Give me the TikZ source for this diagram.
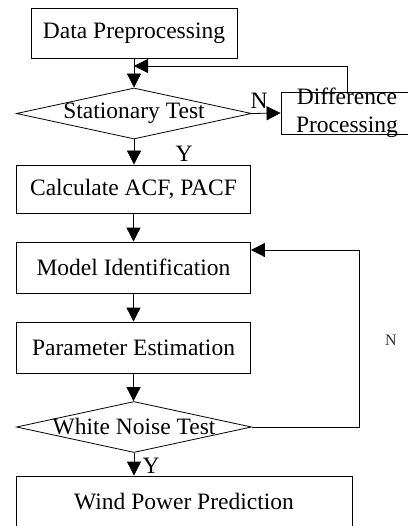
\documentclass[tikz,border=0pt]{standalone}
\usepackage{fontspec}
\setmainfont{Liberation Serif}
\usetikzlibrary{arrows.meta,shapes.geometric,calc}

\begin{document}
\begin{tikzpicture}[x=1pt,y=-1pt,
    lbl/.style={inner sep=0pt, font=\fontsize{23.5}{28}\selectfont},
    stepbox/.style={draw, line width=0.8pt, inner sep=0pt, font=\fontsize{23.5}{28}\selectfont},
    testbox/.style={draw, diamond, line width=0.8pt, inner sep=0pt, minimum width=235, minimum height=51},
    flow/.style={line width=0.8pt, -{Triangle[length=14pt,width=14pt]}}]
			%%%%% START %%%%%
			\useasboundingbox (0,0) rectangle (407,526);
			
			\node[stepbox, minimum width=206, minimum height=50] (prep) at (134,33) {Data Preprocessing};
			\node[testbox, label={[lbl]center:Stationary Test}] (stat) at (134,113.5) {};
			\node[stepbox, minimum width=132, minimum height=42,
			      label={[lbl, align=center]center:Difference\\Processing}] (diff) at (347,113) {};
			\node[stepbox, minimum width=234, minimum height=48] (acf) at (133.5,189) {Calculate ACF, PACF};
			\node[stepbox, minimum width=234, minimum height=51] (ident) at (133.5,267.5) {Model Identification};
			\node[stepbox, minimum width=234, minimum height=51] (estim) at (133.5,347.5) {Parameter Estimation};
			\node[testbox, label={[lbl]center:White Noise Test}] (noise) at (134,427) {};
			\node[stepbox, minimum width=336, minimum height=52] (wind) at (184,502) {Wind Power Prediction};
			
			\coordinate (back) at (134,66);
			\coordinate (loop) at (359,250);
			
			\draw[flow] (prep.south) -- (prep.south |- stat.north);
			\draw[flow] (stat.east) -- (diff.west);
			\node[lbl] (statn) at (259,101) {N};
			\draw[flow] (diff.north) |- (back);
			\draw[flow] (stat.south) -- (stat.south |- acf.north);
			\node[lbl] (staty) at (184,154) {Y};
			
			\draw[flow] (acf.south) -- (acf.south |- ident.north);
			\draw[flow] (ident.south) -- (ident.south |- estim.north);
			\draw[flow] (estim.south) -- (estim.south |- noise.north);
			
			\draw[line width=0.8pt] (noise.east) -| (loop);
			\draw[flow] (loop) -- (loop -| ident.east);
			\node[inner sep=0pt, text=black!80, font=\fontsize{16}{19}\selectfont] (noisen) at (391,340) {N};
			
			\draw[flow] (noise.south) -- (noise.south |- wind.north);
			\node[lbl] (noisey) at (151,466) {Y};
			%%%%% END %%%%%
		\end{tikzpicture}
\end{document}
